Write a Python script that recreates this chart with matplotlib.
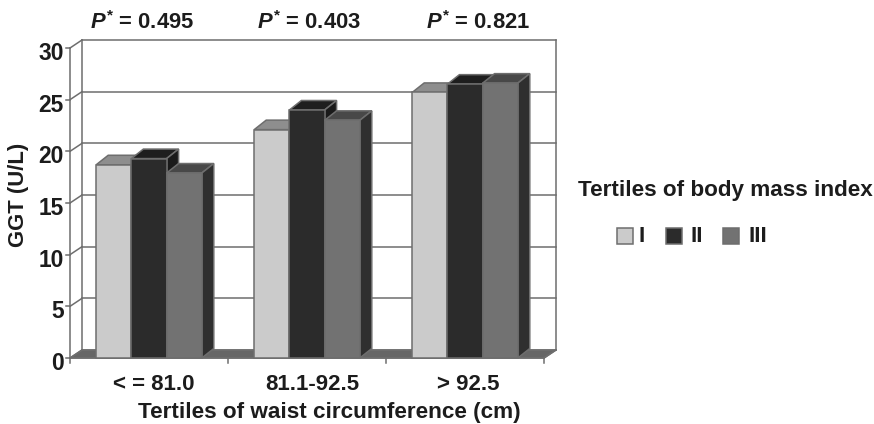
import matplotlib
matplotlib.use("Agg")
import matplotlib.pyplot as plt
from matplotlib.patches import Polygon, Rectangle

plt.rcParams['font.family'] = ['Liberation Sans', 'DejaVu Sans']
plt.rcParams['mathtext.fontset'] = 'custom'
plt.rcParams['mathtext.bfit'] = 'Liberation Sans:italic:bold'
plt.rcParams['mathtext.rm'] = 'Liberation Sans:bold'
plt.rcParams['mathtext.it'] = 'Liberation Sans:italic:bold'
plt.rcParams['mathtext.bf'] = 'Liberation Sans:bold'

categories = ["< = 81.0", "81.1-92.5", "> 92.5"]
p_labels = ["0.495", "0.403", "0.821"]
series_names = ["I", "II", "III"]
series_I = [18.7, 22.1, 25.7]
series_II = [19.3, 24.0, 26.5]
series_III = [17.9, 23.0, 26.6]
y_ticks = [0, 5, 10, 15, 20, 25, 30]

W, H = 874, 424
fig = plt.figure(figsize=(W / 100, H / 100), dpi=100)
L, R, B, T = 70, 544, 358, 48
ax = fig.add_axes([L / W, 1 - B / H, (R - L) / W, (B - T) / H])
ax.set_xlim(0, 3)
ax.set_ylim(0, 30)
ax.axis("off")

px_x = 3 / (R - L)
px_y = 30 / (B - T)
dx = 12 * px_x          # depth offset, data units
dy = 8 * px_y
bar_dy = 9.5 * px_y
bar_w = 35.2 * px_x
line = "#6e6e6e"
lw = 1.1
ink = "#1c1c1c"


def poly(pts, fc, ec=line, z=1, lw_=lw):
    ax.add_patch(Polygon(pts, closed=True, fc=fc, ec=ec, lw=lw_, zorder=z, clip_on=False))


# walls and floor
ax.add_patch(Rectangle((dx, dy), 3, 30, fc="white", ec="none", zorder=0, clip_on=False))
poly([(0, 0), (dx, dy), (3 + dx, dy), (3, 0)], "#666666", z=1)
for v in y_ticks:
    ax.plot([dx, 3 + dx], [v + dy, v + dy], color=line, lw=lw, zorder=1.5, clip_on=False)
    ax.plot([0, dx], [v, v + dy], color=line, lw=lw, zorder=1.5, clip_on=False)
ax.plot([dx, dx], [dy, 30 + dy], color=line, lw=lw, zorder=1.5, clip_on=False)
ax.plot([3 + dx, 3 + dx], [dy, 30 + dy], color=line, lw=lw, zorder=1.5, clip_on=False)
ax.plot([3, 3 + dx], [0, dy], color=line, lw=lw, zorder=1.5, clip_on=False)
ax.plot([0, 0], [0, 30], color=line, lw=lw, zorder=1.5, clip_on=False)
ax.plot([0, 3], [0, 0], color=line, lw=lw, zorder=1.5, clip_on=False)

# bars
series = [series_I, series_II, series_III]
front = ["#cbcbcb", "#2b2b2b", "#727272"]
top = ["#8e8e8e", "#1e1e1e", "#484848"]
side = ["#8a8a8a", "#1a1a1a", "#2f2f2f"]
z = 2.0
for c in range(len(categories)):
    for s, vals in enumerate(series):
        x0 = c + 0.5 + (s - 1.5) * bar_w
        x1 = x0 + bar_w
        v = vals[c]
        poly([(x0, v), (x0 + dx, v + bar_dy), (x1 + dx, v + bar_dy), (x1, v)], top[s], z=z)
        poly([(x1, 0), (x1 + dx, bar_dy), (x1 + dx, v + bar_dy), (x1, v)], side[s], z=z)
        ax.bar(x0, v, width=bar_w, align="edge", color=front[s], edgecolor=line,
               linewidth=lw, zorder=z + 0.1, clip_on=False)
        z += 0.2

# ticks
for v in y_ticks:
    ax.plot([-4 * px_x, 0], [v, v], color=line, lw=lw, clip_on=False, zorder=1.5)
    ax.text(-6.5 * px_x, v - 3 * px_y, str(v), ha="right", va="center_baseline", fontsize=16.4,
            fontweight="bold", color=ink)
for i in range(4):
    ax.plot([i, i], [0, -5 * px_y], color=line, lw=lw, clip_on=False, zorder=1.5)

cat_x = [153.5, 312, 468.5]
p_x = [142.5, 309.5, 478.5]
for c, name in enumerate(categories):
    fig.text(cat_x[c] / W, 1 - 384 / H, name, ha="center", va="center", fontsize=16.0,
             fontweight="bold", color=ink)
    fig.text(p_x[c] / W, 1 - 23 / H, rf"$\mathit{{P}}^{{*}}$ = {p_labels[c]}",
             ha="center", va="center", fontsize=15.8, fontweight="bold", color=ink)

fig.text(329.5 / W, 1 - 412.5 / H, "Tertiles of waist circumference (cm)", ha="center", va="center",
         fontsize=16.2, fontweight="bold", color=ink)
fig.text(19 / W, 1 - 195 / H, "GGT (U/L)", rotation=90, ha="center", va="center",
         fontsize=15.8, fontweight="bold", color=ink)
fig.text(725.5 / W, 1 - 190 / H, "Tertiles of body mass index", ha="center", va="center",
         fontsize=16.2, fontweight="bold", color=ink)

# legend
for name, col, sx, tx in zip(series_names, front, [617, 666, 723], [639, 690, 748]):
    fig.add_artist(Rectangle((sx / W, 1 - 244 / H), 16 / W, 16 / H, transform=fig.transFigure,
                             fc=col, ec=line, lw=lw))
    fig.text(tx / W, 1 - 236.5 / H, name, ha="left", va="center", fontsize=16.2,
             fontweight="bold", color=ink)

fig.savefig("out.png", dpi=100)
